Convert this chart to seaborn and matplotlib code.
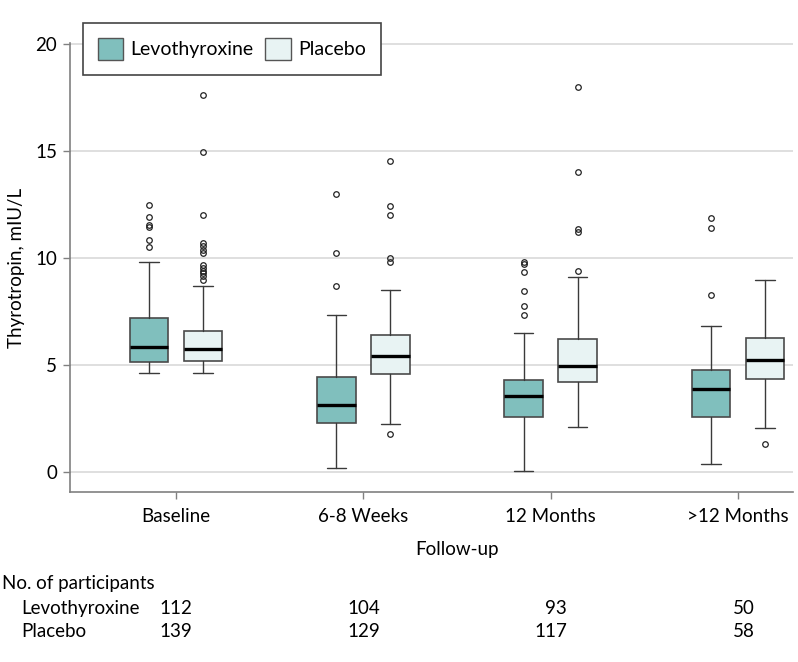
import matplotlib
matplotlib.use("Agg")
import matplotlib.pyplot as plt
import matplotlib.patches as mpatches
import matplotlib.transforms as mtransforms
import seaborn as sns

# ---- data (TSH, mIU/L) ----
groups = ["Baseline", "6-8 Weeks", "12 Months", ">12 Months"]

levo_q1 = [5.12, 2.30, 2.55, 2.57]
levo_med = [5.82, 3.11, 3.52, 3.86]
levo_q3 = [7.20, 4.42, 4.31, 4.78]
levo_lo = [4.60, 0.19, 0.03, 0.37]
levo_hi = [9.80, 7.31, 6.48, 6.80]
levo_out = [[12.49, 11.91, 11.54, 11.43, 10.82, 10.53],
            [13.01, 10.21, 8.71],
            [9.83, 9.72, 9.36, 8.43, 7.74, 7.31],
            [11.85, 11.41, 8.27]]

plac_q1 = [5.20, 4.59, 4.22, 4.34]
plac_med = [5.74, 5.40, 4.96, 5.21]
plac_q3 = [6.60, 6.41, 6.20, 6.27]
plac_lo = [4.60, 2.24, 2.08, 2.05]
plac_hi = [8.71, 8.50, 9.11, 8.99]
plac_out = [[17.62, 14.97, 12.00, 10.71, 10.56, 10.39, 10.21, 9.67, 9.51, 9.37, 9.28, 9.14, 8.99],
            [14.54, 12.41, 12.02, 9.98, 9.83, 1.77],
            [18.00, 14.03, 11.35, 11.19, 9.39],
            [1.28]]

n_levo = [112, 104, 93, 50]
n_plac = [139, 129, 117, 58]

levo_color = "#80bfbd"
plac_color = "#e8f3f3"

sns.set_theme(style="white")
plt.rcParams["font.family"] = ["Lato", "DejaVu Sans"]
plt.rcParams["font.size"] = 13.5
plt.rcParams["text.color"] = "black"
plt.rcParams["axes.labelcolor"] = "black"

FS = 13.5


def make_stats(q1, med, q3, lo, hi, out):
    return [dict(q1=a, med=b, q3=c, whislo=d, whishi=e, fliers=f)
            for a, b, c, d, e, f in zip(q1, med, q3, lo, hi, out)]


fig = plt.figure(figsize=(7.98, 6.62), dpi=100)
ax = fig.add_axes([69.5 / 798, 1 - 492.3 / 662, (793 - 69.5) / 798, (492.3 - 43) / 662])

x = list(range(len(groups)))
offset = 0.144
width = 0.207

common = dict(widths=width, patch_artist=True, manage_ticks=False,
              medianprops=dict(color="black", linewidth=2.4),
              whiskerprops=dict(color="#3a3a3a", linewidth=1.0),
              capprops=dict(color="#3a3a3a", linewidth=1.0),
              flierprops=dict(marker="o", markersize=4.0, markerfacecolor="none",
                              markeredgecolor="#222222", markeredgewidth=0.9))

ax.bxp(make_stats(levo_q1, levo_med, levo_q3, levo_lo, levo_hi, levo_out),
       positions=[i - offset for i in x],
       boxprops=dict(facecolor=levo_color, edgecolor="#4a4a4a", linewidth=1.2),
       **common)
ax.bxp(make_stats(plac_q1, plac_med, plac_q3, plac_lo, plac_hi, plac_out),
       positions=[i + offset for i in x],
       boxprops=dict(facecolor=plac_color, edgecolor="#4a4a4a", linewidth=1.2),
       **common)

ax.set_xlim(-0.569, 3.294)
ax.set_ylim(-0.96, 20.05)
ax.set_yticks([0, 5, 10, 15, 20])
ax.set_xticks(x)
ax.set_xticklabels(groups)
ax.yaxis.grid(True, color="#d9d9d9", linewidth=1.2)
ax.set_axisbelow(True)
for side in ["top", "right"]:
    ax.spines[side].set_visible(False)
for side in ["left", "bottom"]:
    ax.spines[side].set_color("#808080")
    ax.spines[side].set_linewidth(1.2)
ax.tick_params(axis="both", which="major", length=5, width=1.0, color="#808080",
               labelsize=FS, labelcolor="black", direction="out")
ax.tick_params(axis="y", pad=4, left=True)
ax.tick_params(axis="x", pad=6, bottom=True)

ax.set_ylabel("Thyrotropin, mIU/L", fontsize=FS, labelpad=7)
ax.set_xlabel("Follow-up", fontsize=FS)
ax.xaxis.set_label_coords((1.5 + 0.569) / (3.294 + 0.569), -(549 - 492.3) / 449.3)
ax.xaxis.label.set_verticalalignment("center")

# legend
levo_patch = mpatches.Patch(facecolor=levo_color, edgecolor="#555555", label="Levothyroxine")
plac_patch = mpatches.Patch(facecolor=plac_color, edgecolor="#555555", label="Placebo")
leg = ax.legend(handles=[levo_patch, plac_patch], ncol=2, loc="upper left",
                bbox_to_anchor=(13.5 / 723.5, 1 + 20 / 449.3), borderaxespad=0,
                frameon=True, fancybox=False, framealpha=1, fontsize=14,
                handlelength=1.3, handleheight=1.4, handletextpad=0.4,
                columnspacing=0.6, borderpad=0.75)
leg.get_frame().set_edgecolor("#444444")
leg.get_frame().set_linewidth(1.2)

# number-at-risk table
trans = mtransforms.blended_transform_factory(ax.transData, fig.transFigure)
fig.text(1.7 / 798, 1 - 583.3 / 662, "No. of participants", va="center", ha="left", fontsize=FS)
fig.text(21.7 / 798, 1 - 608.3 / 662, "Levothyroxine", va="center", ha="left", fontsize=FS)
fig.text(21.7 / 798, 1 - 631.7 / 662, "Placebo", va="center", ha="left", fontsize=FS)
for i, (a, b) in enumerate(zip(n_levo, n_plac)):
    ax.text(i + 0.088, 1 - 608.3 / 662, str(a), transform=trans, va="center", ha="right", fontsize=FS)
    ax.text(i + 0.088, 1 - 631.7 / 662, str(b), transform=trans, va="center", ha="right", fontsize=FS)

fig.savefig("out.png", dpi=100)
